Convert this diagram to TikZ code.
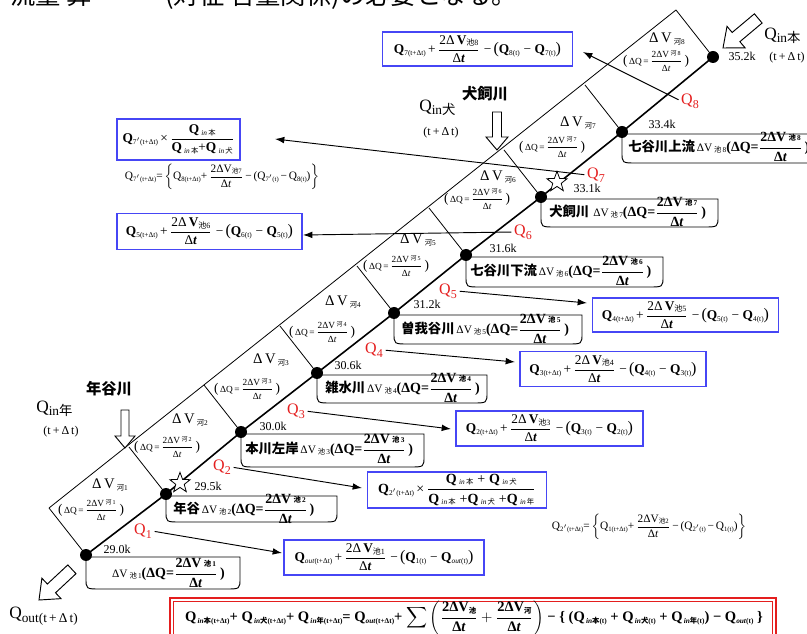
\documentclass[tikz,border=0pt]{standalone}
\usepackage{amsmath}
\usepackage{fontspec}
\setmainfont{Liberation Serif}
\newfontfamily\cjk{Noto Sans CJK JP}
\usetikzlibrary{arrows.meta,shapes.geometric,calc}
\definecolor{qred}{RGB}{228,30,30}
\definecolor{bblue}{RGB}{70,70,245}
\newcommand{\fs}[1]{\fontsize{#1}{#1}\selectfont}
\newcommand{\fr}[2]{\ensuremath{\dfrac{\mbox{#1}}{\mbox{#2}}}}
\newcommand{\sq}[2][5.5]{Q\raisebox{-1.2pt}{\fs{#1}#2}}
\newcommand{\bq}[1]{\textbf{Q}\raisebox{-1.3pt}{\fs{5.5}#1}}
\newcommand{\cellV}[1]{{\fs{11}Δ\,V}\,\raisebox{-2pt}{\fs{5.5}{\cjk 河}#1}}
\newcommand{\cellQ}[1]{{\fs{10}(}{\fs{7}\,ΔQ\,=\,\fr{2ΔV\,\raisebox{1pt}{\fs{4.5}{\cjk 河}\,#1}}{Δ\textit{t}}}\,{\fs{10})}}
\newcommand{\poolT}[2]{{\fs{10}\cjk\bfseries #1}{\fs{8.5}\,ΔV\,\raisebox{-1pt}{\fs{5.5}{\cjk 池}\,#2}}{\fs{10.5}\bfseries(ΔQ=\fr{2ΔV\,\raisebox{1pt}{\fs{5.5}{\cjk 池}\,#2}}{Δ\textit{t}}\,)}}
\newcommand{\poolF}[3]{{\fs{10}\bq{#1(t+Δt)}\,+\,\fr{2Δ\,\textbf{V}\raisebox{-1pt}{\fs{6}{\cjk 池}#2}}{Δ\textbf{\textit{t}}}\;−\,{\fs{12}(}\bq{#3(t)}\;−\;\bq{#1(t)}{\fs{12})}}}
\newcommand{\qin}[1]{\textbf{Q}\,\raisebox{-1pt}{\fs{5.5}\textit{in}\,{\cjk #1}}}
\newcommand{\hollow}[7]{%
\begin{scope}[shift={(#1,#2)},rotate=#3]
\draw[block] (0,0) -- (-#5,#6) -- (-#5,#7) -- (-#4,#7) -- (-#4,-#7) -- (-#5,-#7) -- (-#5,-#6) -- cycle;
\end{scope}}
\newcommand{\pbox}[4]{\draw[pooledge] (#1,#2) -- (#3,#2) -- (#3,#4-11) .. controls (#3,#4) .. (#3-14,#4) -- (#1+14,#4) .. controls (#1,#4) .. (#1,#4-11) -- cycle;}
\begin{document}
\begin{tikzpicture}[x=0.75pt,y=-0.75pt,
 mainline/.style={line width=1.2pt},
 thinline/.style={line width=0.6pt},
 dot/.style={circle, fill=black, inner sep=0pt, minimum size=9pt},
 km/.style={font=\fs{9}, inner sep=0pt},
 qlab/.style={text=qred, inner sep=0pt},
 qarrow/.style={line width=0.7pt, shorten <=2pt, -{Latex[length=7pt,width=5pt]}},
 bluebox/.style={draw=bblue, line width=0.9pt, inner sep=0pt},
 pooledge/.style={line width=0.7pt},
 block/.style={line width=0.7pt, fill=white},
 lab/.style={inner sep=0pt}]
\useasboundingbox (0,0) rectangle (807,634);
% clipped heading
\node[anchor=base west, inner sep=0] (top1) at (10,5) {\fs{19}\cjk 流量 算};
\node[anchor=base west, inner sep=0] (top2) at (165,5) {\fs{19}\cjk (対征 合量関係)の必要となる。};
% river axis nodes
\node[dot] (n1) at (86,555) {};
\node[dot] (n2) at (166,494) {};
\node[dot] (n3) at (241,432) {};
\node[dot] (n4) at (317,373) {};
\node[dot] (n5) at (394,313) {};
\node[dot] (n6) at (466,255) {};
\node[dot] (n7) at (541,197) {};
\node[dot] (n8) at (622,132) {};
\node[dot] (n9) at (713,57) {};
\foreach \i in {1,...,9}{\coordinate (o\i) at ($(n\i)+(-37,-47)$);}
\draw[thinline] (o1) -- (o9);
\foreach \i in {1,...,9}{\draw[thinline] (n\i.center) -- (o\i);}
\draw[mainline] (n1.center) -- (n2.center) -- (n3.center) -- (n4.center) -- (n5.center) -- (n6.center) -- (n7.center) -- (n8.center) -- (n9.center);
% cell labels
\node[lab] (v1) at (110,485) {\cellV{1}};
\node[lab] (w1) at (91,510) {\cellQ{1}};
\node[lab] (v2) at (190,420) {\cellV{2}};
\node[lab] (w2) at (167,447) {\cellQ{2}};
\node[lab] (v3) at (271,360) {\cellV{3}};
\node[lab] (w3) at (247,389) {\cellQ{3}};
\node[lab] (v4) at (343,302) {\cellV{4}};
\node[lab] (w4) at (322,332) {\cellQ{4}};
\node[lab] (v5) at (418,240) {\cellV{5}};
\node[lab] (w5) at (396,266) {\cellQ{5}};
\node[lab] (v6) at (498,177) {\cellV{6}};
\node[lab] (w6) at (477,199) {\cellQ{6}};
\node[lab] (v7) at (578,123) {\cellV{7}};
\node[lab] (w7) at (552,147) {\cellQ{7}};
\node[lab] (v8) at (667,39) {\cellV{8}};
\node[lab] (w8) at (656,61) {\cellQ{8}};
% km labels
\node[km] (k1) at (117,549) {29.0k};
\node[km] (k2) at (208,486) {29.5k};
\node[km] (k3) at (273,426) {30.0k};
\node[km] (k4) at (348,365) {30.6k};
\node[km] (k5) at (427,304) {31.2k};
\node[km] (k6) at (503,248) {31.6k};
\node[km] (k7) at (587,188) {33.1k};
\node[km] (k8) at (662,124) {33.4k};
\node[km] (k9) at (742,56) {35.2k};
% pool boxes
\pbox{86}{557}{240}{589}
\pbox{166}{496}{337}{522}
\pbox{241}{434}{424}{467}
\pbox{317}{375}{487}{403}
\pbox{394}{315}{582}{344}
\pbox{466}{257}{663}{287}
\pbox{541}{199}{718}{227}
\pbox{622}{134}{830}{163}
\node[lab,anchor=west] (p1) at (110,573) {\poolT{}{1}};
\node[lab,anchor=west] (p2) at (173,509) {\poolT{年谷}{2}};
\node[lab,anchor=west] (p3) at (245,449) {\poolT{本川左岸}{3}};
\node[lab,anchor=west] (p4) at (325,388) {\poolT{雑水川}{4}};
\node[lab,anchor=west] (p5) at (401,329) {\poolT{曽我谷川}{5}};
\node[lab,anchor=west] (p6) at (470,271) {\poolT{七谷川下流}{6}};
\node[lab,anchor=west] (p7) at (549,212) {\poolT{犬飼川\,}{7}};
\node[lab,anchor=west] (p8) at (628,147) {\poolT{七谷川上流}{8}};
% stars
\node[star, star points=5, star point ratio=2.4, draw, line width=0.6pt, fill=white, minimum size=16pt, inner sep=0pt] (s1) at (180,483) {};
\node[star, star points=5, star point ratio=2.4, draw, line width=0.6pt, fill=white, minimum size=16pt, inner sep=0pt] (s2) at (557,182) {};
% red Q labels
\node[qlab] (q1) at (143,531) {{\fs{12}Q}\raisebox{-3pt}{\fs{9}1}};
\node[qlab] (q2) at (222,467) {{\fs{12}Q}\raisebox{-3pt}{\fs{9}2}};
\node[qlab] (q3) at (296,411) {{\fs{12}Q}\raisebox{-3pt}{\fs{9}3}};
\node[qlab] (q4) at (374,350) {{\fs{12}Q}\raisebox{-3pt}{\fs{9}4}};
\node[qlab] (q5) at (448,291) {{\fs{12}Q}\raisebox{-3pt}{\fs{9}5}};
\node[qlab] (q6) at (523,232) {{\fs{12}Q}\raisebox{-3pt}{\fs{9}6}};
\node[qlab] (q7) at (596,175) {{\fs{12}Q}\raisebox{-3pt}{\fs{9}7}};
\node[qlab] (q8) at (690,101) {{\fs{12}Q}\raisebox{-3pt}{\fs{9}8}};
% blue boxes
\node[bluebox, minimum width=142.5pt, minimum height=25.5pt] (b8) at (477.5,49) {\poolF{7}{8}{8}};
\node[bluebox, minimum width=92.25pt, minimum height=30.75pt] (b7) at (178.5,139.5) {{\fs{10}\bq{7$'$(t+Δt)}\,×\,\fr{\qin{本}}{\qin{本}+\qin{犬}}}};
\node[lab] (t7) at (222,177) {{\fs{8.5}\sq[5]{7$'$(t+Δt)}=\,$\left\{\mbox{\sq[5]{8(t+Δt)}+\,\fr{2ΔV\raisebox{-1pt}{\fs{5}{\cjk 池}7}}{Δ\textit{t}}\,−\,(\sq[5]{7$'$(t)}\,−\,\sq[5]{8(t)})}\right\}$}};
\node[bluebox, minimum width=138.75pt, minimum height=27pt] (b6) at (209.5,231.5) {\poolF{5}{6}{6}};
\node[bluebox, minimum width=139.5pt, minimum height=25.5pt] (b5) at (685.5,315) {\poolF{4}{5}{5}};
\node[bluebox, minimum width=139.5pt, minimum height=26.25pt] (b4) at (613,369) {\poolF{3}{4}{4}};
\node[bluebox, minimum width=140.25pt, minimum height=26.25pt] (b3) at (549.5,428.5) {\poolF{2}{3}{3}};
\node[bluebox, minimum width=134.25pt, minimum height=27pt] (b2) at (457,490) {{\fs{10.5}\bq{2$'$(t+Δt)}\,×\,\fr{\qin{本}\;+\;\qin{犬}}{\qin{本}\;+\qin{犬}\;+\qin{年}}}};
\node[lab] (t2) at (649,527) {{\fs{8.5}\sq[5]{2$'$(t+Δt)}=\,$\left\{\mbox{\sq[5]{1(t+Δt)}+\,\fr{2ΔV\raisebox{-1pt}{\fs{5}{\cjk 池}2}}{Δ\textit{t}}\,−\,(\sq[5]{2$'$(t)}\,−\,\sq[5]{1(t)})}\right\}$}};
\node[bluebox, minimum width=150pt, minimum height=26.25pt] (b1) at (384,557.5) {\poolF{\textit{out}}{1}{1}};
% arrow tips
\coordinate (t8) at (583,52);
\coordinate (tt7) at (275,139);
\coordinate (t6) at (303,235);
\coordinate (t5) at (587,303);
\coordinate (t4) at (515,362);
\coordinate (t3) at (451,429);
\coordinate (tt2) at (362,488);
\coordinate (t1) at (282,553);
\draw[qarrow] (q8.west) -- (t8);
\draw[qarrow] (q7.west) -- (tt7);
\draw[qarrow] (q6.west) -- (t6);
\draw[qarrow] (q5.east) -- (t5);
\draw[qarrow] (q4.east) -- (t4);
\draw[qarrow] (q3.east) -- (t3);
\draw[qarrow] (q2.east) -- (tt2);
\draw[qarrow] (q1.east) -- (t1);
% inflow / outflow block arrows
\hollow{723}{48}{220}{46}{17}{14}{6}
\hollow{497}{150}{-90}{38}{13}{11}{4.5}
\hollow{125}{448}{-90}{38}{12}{10}{4}
\hollow{39}{600}{223}{45}{17}{14}{6}
% inflow labels
\node[lab,anchor=west] (qh) at (764,36) {{\fs{13}Q}\raisebox{-2.5pt}{\fs{10}in{\cjk 本}}};
\node[lab] (qht) at (787,58) {\fs{9}(t\,+\,Δ\,t)};
\node[lab,anchor=west] (qi) at (419,108) {{\fs{13}Q}\raisebox{-2.5pt}{\fs{10}in{\cjk 犬}}};
\node[lab] (qit) at (441,133) {\fs{9}(t\,+\,Δ\,t)};
\node[lab] (ni) at (485,94) {\fs{11.5}\cjk\bfseries 犬飼川};
\node[lab,anchor=west] (qn) at (36,409) {{\fs{13}Q}\raisebox{-2.5pt}{\fs{10}in{\cjk 年}}};
\node[lab] (qnt) at (61,432) {\fs{9}(t\,+\,Δ\,t)};
\node[lab] (nn) at (109,389) {\fs{11.5}\cjk\bfseries 年谷川};
\node[lab,anchor=west] (qo) at (9,616) {{\fs{13}Q}\raisebox{-3pt}{\fs{10}out(t\,+\,Δ\,t)}};
% red balance box
\draw[qred, line width=1.5pt] (170,598) rectangle (776,645);
\draw[qred, line width=0.5pt] (173.5,601.5) rectangle (772.5,645);
\node[lab] (bal) at (474,618) {{\fs{10.9}\bfseries \sq{\,\textit{in}{\cjk 本}(t+Δt)}+ \sq{\,\textit{in}{\cjk 犬}(t+Δt)}+ \sq{\,\textit{in}{\cjk 年}(t+Δt)}= \sq{\textit{out}(t+Δt)}+ $\displaystyle\sum\left(\fr{2ΔV\raisebox{-1pt}{\fs{5.5}\cjk 池}}{Δ\textit{t}}+\fr{2ΔV\raisebox{-1pt}{\fs{5.5}\cjk 河}}{Δ\textit{t}}\right)$ − \{ (\sq{\,\textit{in}{\cjk 本}(t)} + \sq{\,\textit{in}{\cjk 犬}(t)} + \sq{\,\textit{in}{\cjk 年}(t)}) − \sq{\textit{out}(t)} \}}};
\end{tikzpicture}
\end{document}
